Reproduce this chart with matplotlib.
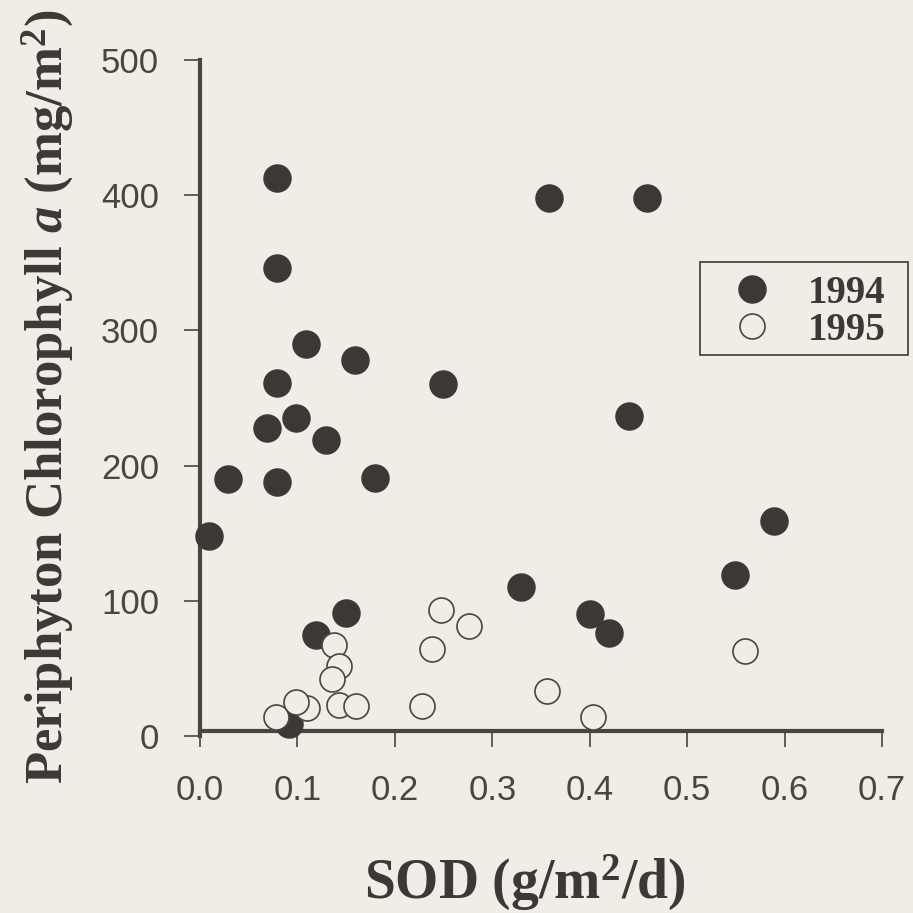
import matplotlib.pyplot as plt
from matplotlib.patches import Rectangle

# SOD vs periphyton chlorophyll a, two sampling years
SOD_1994 = [0.079, 0.358, 0.459, 0.079, 0.109, 0.159, 0.079, 0.249, 0.440, 0.069,
            0.099, 0.129, 0.029, 0.079, 0.180, 0.009, 0.589, 0.329, 0.549, 0.150,
            0.119, 0.400, 0.420, 0.091]
CHL_1994 = [413, 398, 398, 346, 290, 278, 261, 260, 237, 228,
            235, 219, 190, 188, 191, 148, 159, 110, 119, 91,
            75, 90, 76, 9]

SOD_1995 = [0.138, 0.143, 0.135, 0.143, 0.160, 0.110, 0.099, 0.078, 0.228, 0.247,
            0.276, 0.238, 0.356, 0.403, 0.559]
CHL_1995 = [67, 52, 42, 23, 22, 21, 25, 14, 22, 93,
            81, 64, 33, 14, 63]

YEARS = ["1994", "1995"]
X_TICKS = [0.0, 0.1, 0.2, 0.3, 0.4, 0.5, 0.6, 0.7]
Y_TICKS = [0, 100, 200, 300, 400, 500]

PAPER = "#f1ece5"
INK = "#3d3836"
AXIS_INK = "#4a4541"

# legend box, figure pixels (left, top, right, bottom)
LEG_BOX = (700, 262, 908, 355)
LEG_ENTRIES_TOP = 266
FIG_PX = 913

plt.rcParams["mathtext.fontset"] = "custom"
plt.rcParams["mathtext.rm"] = "Liberation Serif:bold"
plt.rcParams["mathtext.bf"] = "Liberation Serif:bold"
plt.rcParams["mathtext.it"] = "Liberation Serif:italic:bold"


def main() -> None:
    fig = plt.figure(figsize=(9.13, 9.13), dpi=100, facecolor=PAPER)
    ax = fig.add_axes([200 / FIG_PX, 177 / FIG_PX, 682 / FIG_PX, 676 / FIG_PX])
    ax.set_facecolor("none")

    ax.set_xlim(0, 0.7)
    ax.set_ylim(0, 500)

    # Points: open circles sit on top of the filled ones
    ax.plot(SOD_1994, CHL_1994, linestyle="none", marker="o", markersize=19.5,
            markerfacecolor=INK, markeredgecolor=INK, clip_on=False, zorder=3,
            label=YEARS[0])
    ax.plot(SOD_1995, CHL_1995, linestyle="none", marker="o", markersize=18,
            markerfacecolor=PAPER, markeredgecolor=AXIS_INK, markeredgewidth=1.2,
            clip_on=False, zorder=4, label=YEARS[1])

    # Axes styling
    for side in ["top", "right"]:
        ax.spines[side].set_visible(False)
    for side in ["left", "bottom"]:
        ax.spines[side].set_linewidth(3)
        ax.spines[side].set_color(AXIS_INK)
    ax.spines["bottom"].set_position(("data", 4))

    ax.set_xticks(X_TICKS)
    ax.set_xticklabels([f"{v:.1f}" for v in X_TICKS])
    ax.set_yticks(Y_TICKS)
    ax.set_yticklabels([str(v) for v in Y_TICKS])
    ax.tick_params(axis="both", direction="out", length=11.5, width=1.2, color=AXIS_INK,
                   labelcolor=AXIS_INK, labelsize=25)
    ax.tick_params(axis="x", pad=20)
    ax.tick_params(axis="y", pad=18)
    for lbl in ax.get_xticklabels() + ax.get_yticklabels():
        lbl.set_fontfamily("Liberation Sans")

    # Axis titles
    fig.text(525 / FIG_PX, 1 - 899 / FIG_PX, "SOD (g/m$^{\\mathbf{2}}$/d)",
             family="Liberation Serif", weight="bold", fontsize=40, color=INK,
             ha="center", va="baseline")
    fig.text(62 / FIG_PX, 1 - 397 / FIG_PX, "Periphyton Chlorophyll $\\mathit{a}$ (mg/m$^{\\mathbf{2}}$)",
             family="Liberation Serif", weight="bold", fontsize=38, color=INK,
             ha="center", va="baseline", rotation=90, rotation_mode="anchor")

    # Legend: tight vertical padding, wider sides, so the frame is drawn separately
    left, top, right, bottom = LEG_BOX
    frame = Rectangle((left / FIG_PX, 1 - bottom / FIG_PX),
                      (right - left) / FIG_PX, (bottom - top) / FIG_PX,
                      transform=fig.transFigure, facecolor=PAPER, edgecolor=INK,
                      linewidth=1.2, clip_on=False, zorder=5)
    ax.add_patch(frame)
    leg = ax.legend(loc="upper left",
                    bbox_to_anchor=(left / FIG_PX, 1 - LEG_ENTRIES_TOP / FIG_PX),
                    bbox_transform=fig.transFigure, borderaxespad=0,
                    frameon=False, handletextpad=0.33, labelspacing=0.0,
                    borderpad=0.23, handlelength=2.21,
                    prop={"family": "Liberation Serif", "weight": "bold", "size": 28})
    leg.set_zorder(6)
    for txt in leg.get_texts():
        txt.set_color(INK)

    fig.savefig("out.png", dpi=100, facecolor=PAPER)
    plt.close(fig)


if __name__ == "__main__":
    main()
